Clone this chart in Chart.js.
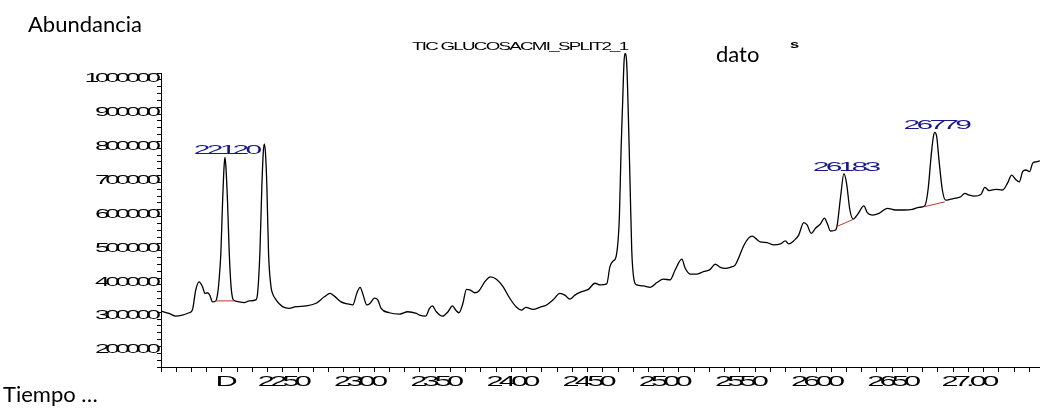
<!DOCTYPE html>
<html>
<head>
<meta charset="utf-8">
<script src="https://cdn.jsdelivr.net/npm/chart.js@4.4.1/dist/chart.umd.min.js"></script>
<style>
  html, body { margin: 0; padding: 0; background: #fff; }
  #wrap { width: 1040px; height: 410px; position: relative; }
</style>
</head>
<body>
<div id="wrap"><canvas id="tic" width="1040" height="410"></canvas></div>
<script>
// Total ion chromatogram: retention time (min) and abundance
const retentionTime = [
  21.700, 21.753, 21.797, 21.840, 21.884, 21.906, 21.928, 21.950, 21.972, 21.989,
  22.005, 22.020, 22.038, 22.060, 22.072, 22.080, 22.093, 22.104, 22.114, 22.120,
  22.126, 22.137, 22.148, 22.160, 22.172, 22.180, 22.213, 22.246, 22.279, 22.323,
  22.334, 22.349, 22.362, 22.371, 22.378, 22.386, 22.395, 22.406, 22.422, 22.432,
  22.455, 22.498, 22.542, 22.586, 22.652, 22.718, 22.772, 22.810, 22.838, 22.882,
  22.926, 22.959, 22.985, 23.007, 23.024, 23.051, 23.073, 23.101, 23.123, 23.145,
  23.200, 23.266, 23.320, 23.376, 23.397, 23.437, 23.463, 23.481, 23.507, 23.547,
  23.584, 23.613, 23.634, 23.656, 23.682, 23.705, 23.731, 23.759, 23.788, 23.825,
  23.862, 23.902, 23.945, 23.989, 24.034, 24.066, 24.095, 24.143, 24.187, 24.231,
  24.274, 24.318, 24.351, 24.384, 24.417, 24.461, 24.505, 24.549, 24.582, 24.626,
  24.647, 24.669, 24.687, 24.709, 24.720, 24.731, 24.739, 24.746, 24.757, 24.768,
  24.779, 24.790, 24.805, 24.823, 24.867, 24.911, 24.955, 24.998, 25.042, 25.075,
  25.119, 25.141, 25.174, 25.218, 25.261, 25.305, 25.338, 25.371, 25.404, 25.437,
  25.470, 25.491, 25.524, 25.557, 25.580, 25.601, 25.634, 25.678, 25.722, 25.766,
  25.799, 25.820, 25.853, 25.886, 25.919, 25.941, 25.968, 25.996, 26.029, 26.055,
  26.073, 26.095, 26.128, 26.139, 26.161, 26.183, 26.200, 26.222, 26.244, 26.274,
  26.314, 26.336, 26.369, 26.413, 26.468, 26.522, 26.577, 26.632, 26.676, 26.713,
  26.735, 26.757, 26.770, 26.779, 26.792, 26.807, 26.829, 26.851, 26.884, 26.917,
  26.950, 26.976, 27.005, 27.037, 27.082, 27.108, 27.136, 27.180, 27.224, 27.257,
  27.284, 27.312, 27.334, 27.356, 27.378, 27.401, 27.422, 27.443, 27.472
];
const abundance = [
  315000, 308000, 300000, 303000, 310000, 318000, 377000, 401000, 387000, 367000,
  369000, 362000, 342000, 345000, 367000, 400000, 486000, 634000, 741000, 768000,
  741000, 634000, 486000, 387000, 350000, 346000, 342000, 340000, 345000, 348000,
  367000, 485000, 682000, 780000, 808000, 780000, 682000, 485000, 387000, 367000,
  348000, 328000, 323000, 328000, 330000, 338000, 357000, 367000, 359000, 342000,
  336000, 333000, 367000, 385000, 367000, 333000, 338000, 353000, 348000, 323000,
  310000, 306000, 313000, 308000, 303000, 300000, 323000, 330000, 313000, 300000,
  313000, 330000, 318000, 310000, 338000, 379000, 377000, 369000, 375000, 401000,
  416000, 409000, 387000, 353000, 326000, 318000, 326000, 320000, 326000, 333000,
  348000, 367000, 362000, 350000, 362000, 372000, 379000, 397000, 392000, 395000,
  446000, 463000, 475000, 593000, 790000, 938000, 1046000, 1075000, 1046000, 888000,
  692000, 495000, 407000, 392000, 389000, 385000, 399000, 409000, 407000, 436000,
  468000, 441000, 424000, 424000, 431000, 438000, 453000, 444000, 441000, 444000,
  451000, 471000, 507000, 530000, 536000, 530000, 519000, 517000, 510000, 513000,
  522000, 513000, 522000, 539000, 576000, 569000, 544000, 559000, 572000, 589000,
  574000, 551000, 554000, 569000, 652000, 720000, 692000, 613000, 586000, 601000,
  625000, 605000, 598000, 603000, 618000, 613000, 613000, 615000, 621000, 625000,
  672000, 780000, 829000, 842000, 829000, 760000, 672000, 642000, 645000, 648000,
  652000, 662000, 657000, 654000, 659000, 680000, 670000, 674000, 672000, 692000,
  716000, 702000, 696000, 726000, 731000, 726000, 751000, 755000, 758000
];

// Integrated peaks: apex time and its printed label
const peakTimes = [22.120, 26.183, 26.779];
const peakLabels = ['22120', '26183', '26779'];

// Integration baselines (start/end time and abundance)
const baselineTimes = [[22.060, 22.180], [26.134, 26.248], [26.713, 26.845]];
const baselineValues = [[345000, 345000], [564000, 586000], [623000, 637000]];

// Axis labels
const xTickValues = [22.00, 22.50, 23.00, 23.50, 24.00, 24.50, 25.00, 25.50, 26.00, 26.50, 27.00];
const xTickLabels = ['D', '2250', '2300', '2350', '2400', '2450', '2500', '2550', '2600', '2650', '27.00'];
const yTickValues = [200000, 300000, 400000, 500000, 600000, 700000, 800000, 900000, 1000000];
const yTickLabels = ['200000', '300000', '400000', '500000', '600000', '700000', '800000', '900000', '1000000'];

const monoFont = "'Liberation Sans', Arial, sans-serif";
const textFont = "Lato, 'Open Sans', sans-serif";

// Draws text widened horizontally by factor sx, with optional tight tracking
function wideText(ctx, text, x, y, o) {
  ctx.save();
  ctx.font = o.font;
  ctx.fillStyle = o.color || '#000';
  ctx.textBaseline = o.baseline || 'alphabetic';
  ctx.textAlign = 'left';
  if ('letterSpacing' in ctx) ctx.letterSpacing = (o.ls || 0) + 'px';
  const sx = o.sx || 1;
  const w = (ctx.measureText(text).width - (o.ls || 0)) * sx;
  let left = x;
  if (o.align === 'center') left = x - w / 2;
  else if (o.align === 'right') left = x - w;
  ctx.translate(left, y);
  ctx.scale(sx, 1);
  ctx.fillText(text, 0, 0);
  ctx.restore();
}

const labelPlugin = {
  id: 'ticLabels',
  afterDraw(chart) {
    const ctx = chart.ctx;
    const xs = chart.scales.x, ys = chart.scales.y;
    const area = chart.chartArea;

    // y tick labels, touching the axis line
    yTickValues.forEach((v, i) => {
      wideText(ctx, yTickLabels[i], area.left, ys.getPixelForValue(v),
        { font: '12px ' + monoFont, sx: 2.2, ls: -2, align: 'right', baseline: 'middle' });
    });

    // x tick labels; short labels end where a four-digit label would end
    const xOpts = { font: '14px ' + monoFont, sx: 2.2, ls: -2.2, baseline: 'middle' };
    ctx.save();
    ctx.font = xOpts.font;
    if ('letterSpacing' in ctx) ctx.letterSpacing = xOpts.ls + 'px';
    const w4 = (ctx.measureText('0000').width - xOpts.ls) * xOpts.sx;
    ctx.restore();
    xTickValues.forEach((v, i) => {
      const px = xs.getPixelForValue(v) + 2;
      const lbl = xTickLabels[i];
      if (lbl.length >= 4) {
        wideText(ctx, lbl, px, area.bottom + 15, { ...xOpts, align: 'center' });
      } else {
        wideText(ctx, lbl, px + w4 / 2 + 2, area.bottom + 15, { ...xOpts, align: 'right' });
      }
    });

    // peak apex labels
    peakTimes.forEach((t, i) => {
      const idx = retentionTime.indexOf(t);
      const px = xs.getPixelForValue(t);
      const py = ys.getPixelForValue(abundance[idx]);
      wideText(ctx, peakLabels[i], px + 3, py - 3,
        { font: '12px ' + monoFont, sx: 2.5, ls: -1.5, align: 'center', color: '#17178a' });
    });

    // header and axis captions
    wideText(ctx, 'Abundancia', 28, 32, { font: '22px ' + textFont });
    wideText(ctx, 'TIC GLUCOSACMI_SPLIT2_1', 412, 50, { font: '11px ' + monoFont, sx: 1.7, ls: -1 });
    wideText(ctx, 'dato', 716, 62, { font: '22px ' + textFont });
    wideText(ctx, 's', 790, 48, { font: 'bold 11px ' + monoFont, sx: 1.5 });
    wideText(ctx, 'Tiempo \u2026', 3, 402, { font: '22px ' + textFont });
  }
};

const traceData = retentionTime.map((t, i) => ({ x: t, y: abundance[i] }));
const baselineSets = baselineTimes.map((ts, i) => ({
  data: ts.map((t, j) => ({ x: t, y: baselineValues[i][j] })),
  borderColor: '#c0392b',
  borderWidth: 1,
  pointRadius: 0,
  order: 0
}));

new Chart(document.getElementById('tic'), {
  type: 'line',
  data: {
    datasets: [
      {
        data: traceData,
        borderColor: '#000',
        borderWidth: 1.3,
        pointRadius: 0,
        cubicInterpolationMode: 'monotone',
        clip: false,
        order: 1
      },
      ...baselineSets
    ]
  },
  options: {
    responsive: false,
    animation: false,
    devicePixelRatio: 1,
    events: [],
    layout: { padding: { top: 73, left: 0, right: 0, bottom: 0 } },
    plugins: { legend: { display: false }, tooltip: { enabled: false } },
    scales: {
      x: {
        type: 'linear',
        min: 21.70,
        max: 27.47,
        afterFit(s) { s.height = 43; },
        grid: { drawOnChartArea: false, drawTicks: true, tickLength: 5, color: '#000' },
        border: { color: '#000', width: 1 },
        ticks: { display: false, stepSize: 0.1, includeBounds: false, autoSkip: false }
      },
      y: {
        type: 'linear',
        min: 150000,
        max: 1017000,
        afterFit(s) { s.width = 161; },
        grid: { drawOnChartArea: false, drawTicks: true, tickLength: 4, color: '#000' },
        border: { color: '#000', width: 1 },
        ticks: { display: false, stepSize: 20000, includeBounds: false, autoSkip: false }
      }
    }
  },
  plugins: [labelPlugin]
});
</script>
</body>
</html>
